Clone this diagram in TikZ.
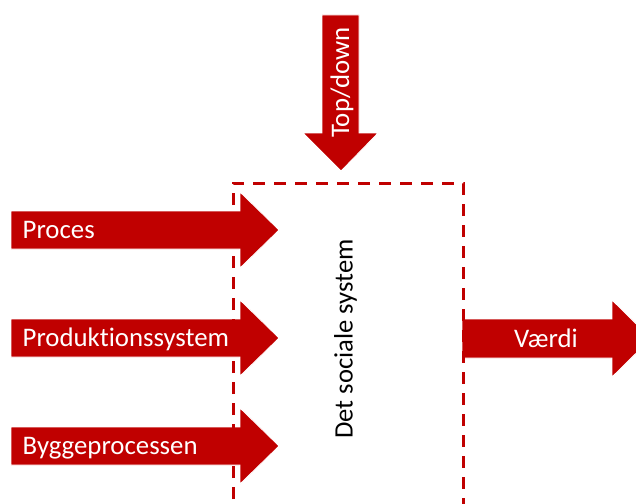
\documentclass[tikz,border=0pt]{standalone}
\usepackage{fontspec}
\setmainfont{Carlito}[Ligatures=NoCommon]
\definecolor{accent}{HTML}{C00000}
\tikzset{
  flow/.style={fill=accent, draw=white, line width=0.8pt, line join=miter},
  lbl/.style={text=white, font=\fontsize{26.8}{30}\selectfont, inner sep=0pt},
  boxlbl/.style={text=black, font=\fontsize{26.6}{30}\selectfont, inner sep=0pt},
  frame/.style={draw=accent, line width=3pt, dash pattern=on 12pt off 9pt}
}
\begin{document}
\begin{tikzpicture}[x=1pt,y=-1pt]
  \useasboundingbox (0,0) rectangle (636,503);
  \clip (0,0) rectangle (636,503);

  % input arrows on the left
  \foreach \c/\name/\txt in {230/proc/Proces, 338/prod/Produktionssystem, 446/bygg/Byggeprocessen}{
    \fill[flow] (11,\c-19) -- (240,\c-19) -- (240,\c-38) -- (279,\c)
      -- (240,\c+38) -- (240,\c+19) -- (11,\c+19) -- cycle;
    \node[lbl, anchor=base west] (\name) at (22.5,\c+8.5) {\txt};
  }

  % output arrow on the right
  \fill[flow] (462,319) -- (612,319) -- (612,300) -- (651,338.5)
    -- (612,377) -- (612,358) -- (462,358) -- cycle;
  \node[lbl, anchor=base] (vaerdi) at (546,347) {Værdi};

  % arrow from above
  \fill[flow] (322,15) -- (359,15) -- (359,133) -- (378,133) -- (341,171)
    -- (303,133) -- (322,133) -- cycle;
  \node[lbl, anchor=base, rotate=90] (topdown) at (349,82.5) {Top/down};

  % the system boundary
  \draw[frame] (233,520) -- (233,183) -- (463,183) -- (463,520);
  \node[boxlbl, anchor=base, rotate=90] (system) at (352.5,339) {Det sociale system};
\end{tikzpicture}
\end{document}
